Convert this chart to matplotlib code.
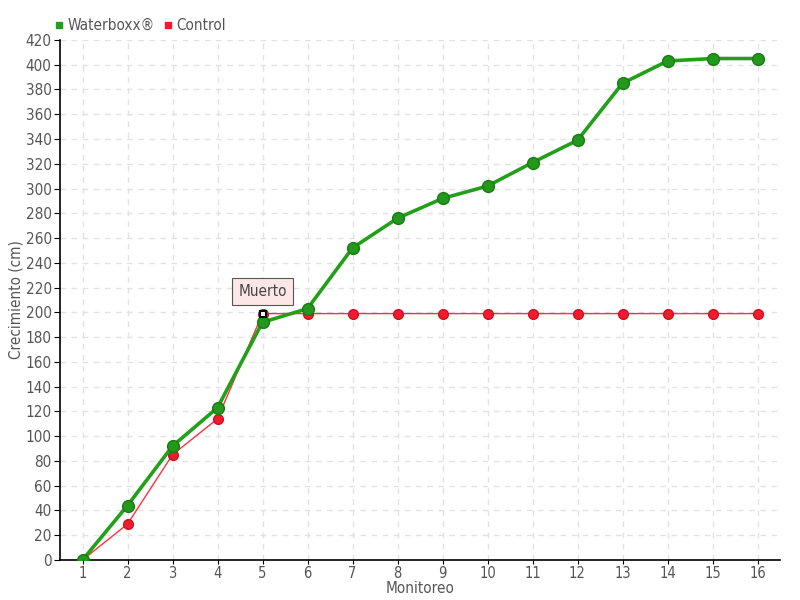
import matplotlib.pyplot as plt

plt.rcParams["font.family"] = ["DejaVu Sans"]
plt.rcParams["font.stretch"] = "condensed"

monitoreo = list(range(1, 17))
waterboxx = [0, 44, 92, 123, 192, 203, 252, 276, 292, 302, 321, 339, 385, 403, 405, 405]
control = [0, 29, 85, 114, 199, 199, 199, 199, 199, 199, 199, 199, 199, 199, 199, 199]
y_ticks = list(range(0, 421, 20))

fig = plt.figure(figsize=(8, 6), dpi=100)
ax = fig.add_axes([0.075, 0.0667, 0.9, 0.8667])

ax.plot(monitoreo, control, color="#ff3040", linewidth=1, marker="o",
        markersize=7, markerfacecolor="#ee1c2c", markeredgecolor="#d01020",
        label="Control", zorder=3)
ax.plot(monitoreo, waterboxx, color="#22a01a", linewidth=2.6, marker="o",
        markersize=8.5, markerfacecolor="#22991a", markeredgecolor="#1a7a14",
        label="Waterboxx®", zorder=4)

# dead marker + tooltip
ax.plot(monitoreo[4], control[4], marker="s", markersize=5,
        markerfacecolor="white", markeredgecolor="black", markeredgewidth=1.5,
        zorder=6)
ax.annotate("Muerto", xy=(monitoreo[4], control[4]), xytext=(0, 16),
            textcoords="offset points", ha="center", va="center",
            fontsize=11, color="#444444",
            bbox=dict(boxstyle="square,pad=0.4", fc="#fde6e6", ec="#555555", lw=0.8),
            zorder=7)

ax.set_xlim(0.5, 16.5)
ax.set_ylim(0, 420)
ax.set_xticks(monitoreo)
ax.set_yticks(y_ticks)
ax.grid(True, linestyle=(0, (4, 4)), color="#e2e2e2", linewidth=1)
ax.set_axisbelow(True)
for s in ["top", "right"]:
    ax.spines[s].set_visible(False)
ax.spines["left"].set_linewidth(1.2)
ax.spines["bottom"].set_linewidth(1.2)
ax.tick_params(axis="both", labelsize=11, colors="black", labelcolor="#555555",
               length=4, pad=2)
ax.tick_params(axis="x", labelsize=10.5, length=3, pad=1)

ax.set_xlabel("Monitoreo", fontsize=11, color="#555555")
ax.xaxis.set_label_coords(0.5, -0.041)
ax.set_ylabel("Crecimiento (cm)", fontsize=11, color="#555555")
ax.yaxis.set_label_coords(-0.05, 0.5)

handles, labels = ax.get_legend_handles_labels()
leg = fig.legend(handles[::-1], labels[::-1], loc="upper left",
                 bbox_to_anchor=(0.052, 0.993), ncol=2, frameon=False,
                 fontsize=11, handlelength=0.5, handletextpad=0.3,
                 columnspacing=0.6, labelcolor="#555555")
for h, c in zip(leg.legend_handles, ["#22a01a", "#ee1c2c"]):
    h.set_linestyle("")
    h.set_marker("s")
    h.set_markersize(5)
    h.set_markerfacecolor(c)
    h.set_markeredgecolor(c)

fig.savefig("out.png")
